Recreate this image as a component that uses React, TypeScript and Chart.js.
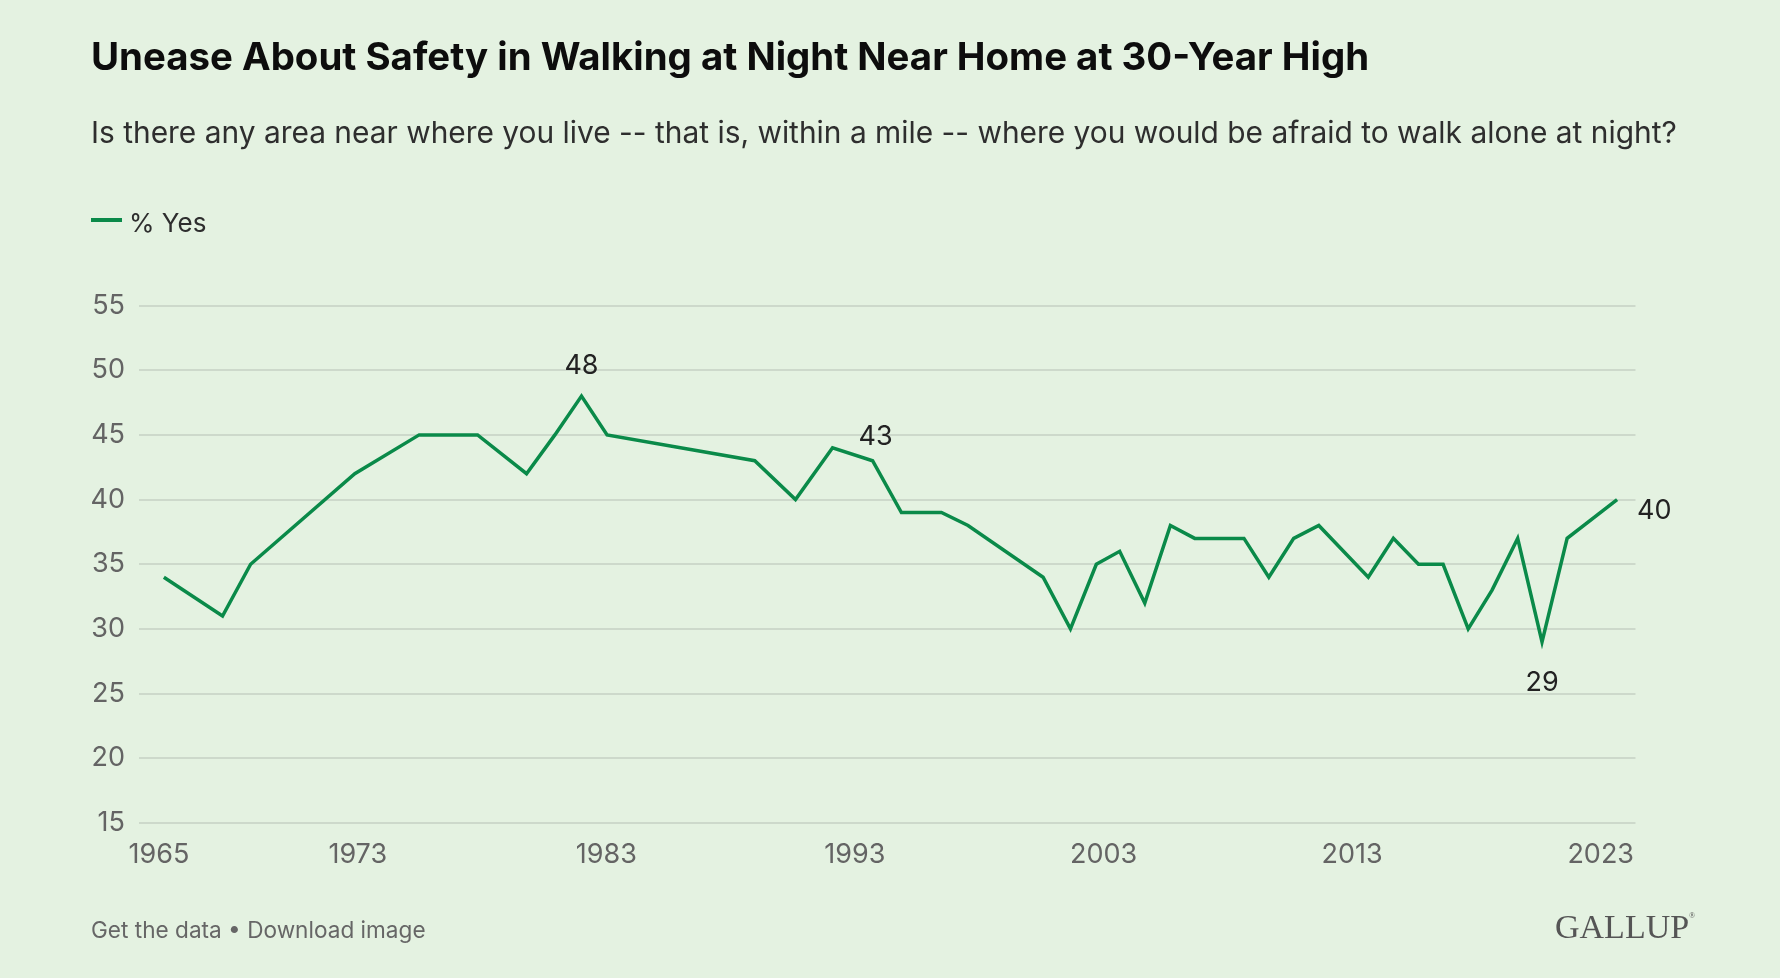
import React, { useEffect, useRef } from "react";
import { Chart, registerables } from "chart.js";

Chart.register(...registerables);

// ---- Data ----
const surveyYears = [
  1965.2, 1967.56, 1968.69, 1972.88, 1975.47, 1977.82, 1979.79, 1980.93, 1982.0, 1983.03,
  1988.97, 1990.61, 1992.1, 1993.71, 1994.87, 1996.48, 1997.55, 2000.57, 2001.67, 2002.71,
  2003.65, 2004.66, 2005.69, 2006.67, 2007.67, 2008.65, 2009.65, 2010.65, 2011.66, 2013.65,
  2014.66, 2015.67, 2016.66, 2017.67, 2018.63, 2019.66, 2020.64, 2021.65, 2023.66,
];
const pctYes = [
  34, 31, 35, 42, 45, 45, 42, 45, 48, 45,
  43, 40, 44, 43, 39, 39, 38, 34, 30, 35,
  36, 32, 38, 37, 37, 37, 34, 37, 38, 34,
  37, 35, 35, 30, 33, 37, 29, 37, 40,
];
const xTickYears = [1965, 1973, 1983, 1993, 2003, 2013, 2023];
const seriesLabel = "% Yes";
const labeledIndices = [8, 13, 36, 38];

const TITLE = "Unease About Safety in Walking at Night Near Home at 30-Year High";
const SUBTITLE =
  "Is there any area near where you live -- that is, within a mile -- where you would be afraid to walk alone at night?";
const FOOTER = "Get the data \u2022 Download image";

// ---- Styles ----
const W = 1780;
const H = 978;
const BG = "#e4f2e1";
const GREEN = "#0a8a49";
const GRID = "#cdd9cb";
const TICK = "#646464";
const FONT = "Inter, 'Noto Sans', sans-serif";
// label placement (align, dx, dy) for each labelled point, in pixels
const labelStyles: [CanvasTextAlign, number, number][] = [
  ["center", 0, -30],
  ["center", 3, -24],
  ["center", 0, 41],
  ["left", 20, 11],
];

const pointLabelsPlugin = {
  id: "pointLabels",
  afterDatasetsDraw(chart: any) {
    const ctx = chart.ctx;
    const meta = chart.getDatasetMeta(0);
    ctx.save();
    ctx.font = `27px ${FONT}`;
    ctx.fillStyle = "#222222";
    ctx.textBaseline = "middle";
    labeledIndices.forEach((idx, i) => {
      const el = meta.data[idx];
      if (!el) return;
      const [align, dx, dy] = labelStyles[i];
      ctx.textAlign = align;
      ctx.fillText(String(pctYes[idx]), el.x + dx, el.y + dy);
    });
    ctx.restore();
  },
};

function Txt(props: {
  x: number;
  base: number;
  fs: number;
  color: string;
  weight?: number;
  family?: string;
  asc?: number;
  children: React.ReactNode;
}) {
  const asc = props.asc ?? 0.8635;
  return (
    <div
      style={{
        position: "absolute",
        left: props.x,
        top: props.base - asc * props.fs,
        fontSize: props.fs,
        lineHeight: 1,
        fontFamily: props.family ?? FONT,
        fontWeight: props.weight ?? 400,
        color: props.color,
        whiteSpace: "nowrap",
      }}
    >
      {props.children}
    </div>
  );
}

export default function App() {
  const canvasRef = useRef<HTMLCanvasElement | null>(null);

  useEffect(() => {
    const canvas = canvasRef.current;
    if (!canvas) return;
    const chart = new Chart(canvas, {
      type: "line",
      data: {
        datasets: [
          {
            label: seriesLabel,
            data: surveyYears.map((x, i) => ({ x, y: pctYes[i] })),
            borderColor: GREEN,
            backgroundColor: GREEN,
            borderWidth: 3.5,
            pointRadius: 0,
            tension: 0,
            fill: false,
          },
        ],
      },
      options: {
        responsive: false,
        animation: false,
        events: [],
        layout: { padding: { left: 0, right: 144.5, top: 305.5, bottom: H - 823 - 60 } },
        plugins: { legend: { display: false }, tooltip: { enabled: false }, title: { display: false } },
        scales: {
          x: {
            type: "linear",
            min: 1964.2,
            max: 2024.4,
            afterBuildTicks: (s: any) => {
              s.ticks = xTickYears.map((value) => ({ value }));
            },
            afterFit: (s: any) => {
              s.height = 60;
            },
            ticks: {
              autoSkip: false,
              maxRotation: 0,
              minRotation: 0,
              padding: 8,
              color: TICK,
              font: { family: FONT, size: 27 },
              callback: (v: any) => String(v),
            },
            grid: { display: false },
            border: { display: false },
          },
          y: {
            min: 15,
            max: 55,
            afterFit: (s: any) => {
              s.width = 139;
            },
            ticks: {
              stepSize: 5,
              padding: 14,
              color: TICK,
              font: { family: FONT, size: 27 },
            },
            grid: { color: GRID, lineWidth: 2, drawTicks: false },
            border: { display: false },
          },
        },
      },
      plugins: [pointLabelsPlugin],
    });
    return () => chart.destroy();
  }, []);

  return (
    <div
      style={{
        position: "fixed",
        left: 0,
        top: 0,
        width: W,
        height: H,
        background: BG,
        overflow: "hidden",
      }}
    >
      <canvas ref={canvasRef} width={W} height={H} style={{ position: "absolute", left: 0, top: 0, width: W, height: H }} />
      <Txt x={91} base={70} fs={38.4} color="#0d0d0d" weight={700}>
        {TITLE}
      </Txt>
      <Txt x={91} base={144} fs={29.9} color="#2e2e2e">
        {SUBTITLE}
      </Txt>
      <div style={{ position: "absolute", left: 91, top: 218, width: 31, height: 4, background: GREEN }} />
      <Txt x={129} base={232} fs={26} color="#2e2e2e">
        {seriesLabel}
      </Txt>
      <Txt x={91} base={939} fs={22.6} color="#666666">
        {FOOTER}
      </Txt>
      <Txt x={1555} base={938} fs={34} color="#555555" family="'Liberation Serif', 'DejaVu Serif', serif" asc={0.8375}>
        GALLUP<sup style={{ fontSize: 8, verticalAlign: "top", position: "relative", top: 2 }}>®</sup>
      </Txt>
    </div>
  );
}
